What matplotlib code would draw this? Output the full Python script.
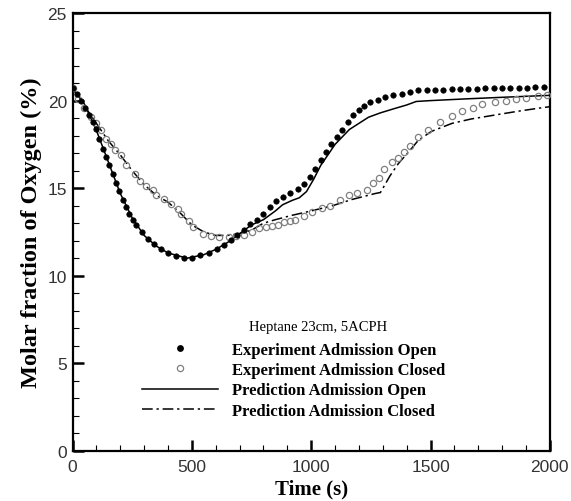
import matplotlib
matplotlib.use("Agg")
import matplotlib.pyplot as plt
from matplotlib.ticker import MultipleLocator
from matplotlib.lines import Line2D

# ---- data ----
exp_open_t = [0, 18, 36, 54, 70, 84, 98, 112, 126, 140, 154, 168, 182, 196, 210, 224,
              238, 252, 268, 290, 315, 342, 370, 400, 434, 468, 502, 536, 570, 604, 636,
              664, 691, 718, 745, 772, 799, 826, 853, 882, 913, 944, 970, 993, 1016,
              1039, 1062, 1085, 1108, 1131, 1154, 1177, 1200, 1223, 1248, 1278, 1310,
              1344, 1379, 1414, 1449, 1484, 1519, 1554, 1589, 1624, 1659, 1694, 1729,
              1764, 1799, 1834, 1869, 1904, 1939, 1974]
exp_open_v = [20.7, 20.35, 20.0, 19.55, 19.15, 18.8, 18.35, 17.8, 17.25, 16.8, 16.3,
              15.8, 15.3, 14.85, 14.35, 13.9, 13.55, 13.2, 12.9, 12.5, 12.1, 11.8, 11.5,
              11.3, 11.15, 11.03, 11.0, 11.2, 11.3, 11.5, 11.75, 12.05, 12.3, 12.6, 12.95,
              13.2, 13.5, 13.9, 14.25, 14.5, 14.7, 14.95, 15.25, 15.65, 16.1, 16.6, 17.05,
              17.5, 17.9, 18.3, 18.75, 19.15, 19.45, 19.7, 19.9, 20.05, 20.2, 20.3, 20.4,
              20.5, 20.6, 20.6, 20.6, 20.62, 20.65, 20.65, 20.65, 20.68, 20.7, 20.7, 20.7,
              20.7, 20.7, 20.72, 20.75, 20.75]

exp_closed_t = [0, 23, 50, 79, 100, 120, 142, 160, 176, 204, 225, 260, 281, 309, 336,
                350, 385, 413, 441, 455, 489, 503, 545, 580, 615, 656, 684, 719, 753,
                781, 810, 837, 860, 886, 910, 934, 969, 1004, 1046, 1080, 1122, 1157,
                1192, 1233, 1257, 1282, 1307, 1338, 1363, 1390, 1414, 1446, 1491, 1539,
                1591, 1630, 1676, 1716, 1769, 1817, 1860, 1900, 1950, 1990]
exp_closed_v = [20.7, 20.1, 19.6, 19.05, 18.7, 18.3, 17.8, 17.5, 17.2, 16.9, 16.3, 15.8,
                15.4, 15.1, 14.9, 14.6, 14.4, 14.1, 13.8, 13.5, 13.1, 12.8, 12.4, 12.25,
                12.2, 12.2, 12.25, 12.3, 12.5, 12.7, 12.8, 12.85, 12.9, 13.05, 13.1, 13.2,
                13.4, 13.65, 13.85, 14.0, 14.3, 14.6, 14.7, 14.9, 15.3, 15.6, 16.1, 16.5,
                16.7, 17.05, 17.4, 17.9, 18.3, 18.8, 19.1, 19.4, 19.6, 19.8, 19.9, 20.0,
                20.1, 20.15, 20.25, 20.3]

pred_open_t = [0, 50, 100, 150, 200, 250, 300, 350, 400, 480, 550, 600, 650, 700, 750,
               800, 850, 880, 920, 950, 980, 1010, 1040, 1070, 1100, 1160, 1240, 1290,
               1350, 1400, 1440, 1500, 1650, 1820, 2000]
pred_open_v = [20.7, 19.8, 18.3, 16.5, 14.7, 13.3, 12.3, 11.7, 11.3, 11.0, 11.2, 11.5,
               11.9, 12.4, 12.9, 13.2, 13.7, 14.05, 14.3, 14.45, 14.8, 15.5, 16.3, 16.9,
               17.5, 18.35, 19.05, 19.3, 19.55, 19.75, 19.95, 20.0, 20.1, 20.2, 20.3]

pred_closed_t = [0, 50, 100, 150, 200, 250, 300, 350, 400, 450, 500, 550, 600, 650, 700,
                 750, 800, 850, 920, 1000, 1090, 1170, 1270, 1290, 1330, 1365, 1410, 1450,
                 1505, 1590, 1670, 1780, 1870, 1970, 2000]
pred_closed_v = [20.7, 19.7, 18.7, 17.7, 16.9, 16.0, 15.2, 14.6, 14.2, 13.6, 12.9, 12.5,
                 12.3, 12.3, 12.4, 12.6, 13.0, 13.2, 13.45, 13.7, 14.0, 14.35, 14.7, 14.75,
                 15.7, 16.4, 17.1, 17.75, 18.25, 18.7, 18.95, 19.2, 19.4, 19.6, 19.65]

labels = ["Experiment Admission Open", "Experiment Admission Closed",
          "Prediction Admission Open", "Prediction Admission Closed"]
title_text = "Heptane 23cm, 5ACPH"
xlabel = "Time (s)"
ylabel = "Molar fraction of Oxygen (%)"

serif = ["Liberation Serif", "DejaVu Serif"]
sans = ["Liberation Sans", "DejaVu Sans"]

fig = plt.figure(figsize=(5.71, 5.02), dpi=100)
ax = fig.add_axes([0.127, 0.100, 0.836, 0.872])

dash = (0, (7, 2.5, 1.5, 2.5))
ax.plot(pred_open_t, pred_open_v, color="black", lw=1.1, zorder=2)
ax.plot(pred_closed_t, pred_closed_v, color="black", lw=1.1, linestyle=dash, zorder=2)
ax.plot(exp_closed_t, exp_closed_v, linestyle="none", marker="o", markersize=4.5,
        markerfacecolor="none", markeredgecolor="#808080", markeredgewidth=0.9, zorder=3)
ax.plot(exp_open_t, exp_open_v, linestyle="none", marker="o", markersize=3.9,
        markerfacecolor="black", markeredgecolor="black", markeredgewidth=0.5, zorder=4)

ax.set_xlim(0, 2000)
ax.set_ylim(0, 25)
ax.xaxis.set_major_locator(MultipleLocator(500))
ax.xaxis.set_minor_locator(MultipleLocator(100))
ax.yaxis.set_major_locator(MultipleLocator(5))
ax.yaxis.set_minor_locator(MultipleLocator(1))
ax.tick_params(which="both", direction="in", top=False, right=False, width=1.2)
ax.tick_params(which="major", length=8, width=1.8, labelsize=12.5)
ax.tick_params(axis="x", which="major", pad=6)
ax.tick_params(axis="y", which="major", pad=4)
ax.tick_params(which="minor", length=4.5, width=0.8)
for lab in ax.get_xticklabels() + ax.get_yticklabels():
    lab.set_family(sans)
    lab.set_color("#333333")
for s in ax.spines.values():
    s.set_linewidth(1.6)

ax.set_xlabel(xlabel, family=serif, fontweight="bold", fontsize=15, labelpad=3)
ax.set_ylabel(ylabel, family=serif, fontweight="bold", fontsize=17.5, labelpad=4)

handles = [
    Line2D([], [], linestyle="none", marker="o", markersize=3.9, markerfacecolor="black",
           markeredgecolor="black"),
    Line2D([], [], linestyle="none", marker="o", markersize=4.5, markerfacecolor="none",
           markeredgecolor="#808080", markeredgewidth=0.9),
    Line2D([], [], color="black", lw=1.1),
    Line2D([], [], color="black", lw=1.1, linestyle=dash),
]
leg = ax.legend(handles, labels, loc="upper left", bbox_to_anchor=(0.145, 0.249),
                frameon=False, handlelength=4.6, handletextpad=0.8, labelspacing=0.26,
                borderpad=0, borderaxespad=0,
                prop={"family": serif, "weight": "bold", "size": 12})

ax.text(0.514, 0.285, title_text, transform=ax.transAxes, ha="center", va="center",
        family=serif, fontsize=10.5)

fig.savefig("out.png", dpi=100)
